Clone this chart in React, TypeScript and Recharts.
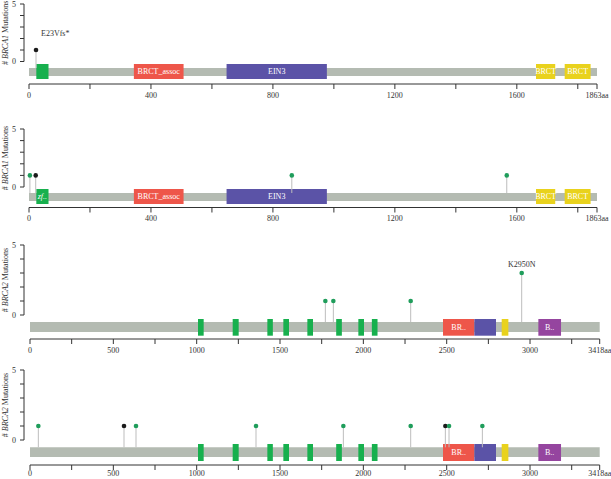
import { ComposedChart, XAxis, YAxis, Scatter, ReferenceArea, ReferenceLine } from 'recharts';

// protein lengths (aa)
const brca1Length = 1863;
const brca2Length = 3418;

// x-axis ticks
const brca1Ticks = [0, 200, 400, 600, 800, 1000, 1200, 1400, 1600, 1800, 1863];
const brca1TickLabels = [0, 400, 800, 1200, 1600];
const brca2Ticks = [0, 250, 500, 750, 1000, 1250, 1500, 1750, 2000, 2250, 2500, 2750, 3000, 3250, 3418];
const brca2TickLabels = [0, 500, 1000, 1500, 2000, 2500, 3000];
const yTicks = [0, 1, 2, 3, 4, 5];
const yTickLabels = [0, 5];

// protein domains
const brca1Domains = [
  { name: 'zf-C3HC4', start: 24, end: 64 },
  { name: 'BRCT_assoc', start: 344, end: 507 },
  { name: 'EIN3', start: 648, end: 977 },
  { name: 'BRCT', start: 1663, end: 1726 },
  { name: 'BRCT', start: 1757, end: 1842 },
];
const brca1LabelsTop = ['', 'BRCT_assoc', 'EIN3', 'BRCT', 'BRCT'];
const brca1LabelsBottom = ['zf..', 'BRCT_assoc', 'EIN3', 'BRCT', 'BRCT'];

const brca2Domains = [
  { name: 'BRCA2', start: 1008, end: 1042 },
  { name: 'BRCA2', start: 1216, end: 1252 },
  { name: 'BRCA2', start: 1424, end: 1457 },
  { name: 'BRCA2', start: 1520, end: 1554 },
  { name: 'BRCA2', start: 1664, end: 1698 },
  { name: 'BRCA2', start: 1837, end: 1871 },
  { name: 'BRCA2', start: 1970, end: 2004 },
  { name: 'BRCA2', start: 2051, end: 2085 },
  { name: 'BRCA-2_helical', start: 2478, end: 2666 },
  { name: 'BRCA-2_OB1', start: 2666, end: 2796 },
  { name: 'Tower', start: 2830, end: 2870 },
  { name: 'BRCA-2_OB3', start: 3050, end: 3186 },
];
const brca2Labels = ['', '', '', '', '', '', '', '', 'BR..', '', '', 'B..'];

// mutations: position, count, class, label
const brca1MutationsTop = [{ pos: 23, count: 1, kind: 'truncating', label: 'E23Vfs*' }];
const brca1MutationsBottom = [
  { pos: 3, count: 1, kind: 'missense', label: '' },
  { pos: 22, count: 1, kind: 'truncating', label: '' },
  { pos: 862, count: 1, kind: 'missense', label: '' },
  { pos: 1567, count: 1, kind: 'missense', label: '' },
];
const brca2MutationsTop = [
  { pos: 1772, count: 1, kind: 'missense', label: '' },
  { pos: 1820, count: 1, kind: 'missense', label: '' },
  { pos: 2284, count: 1, kind: 'missense', label: '' },
  { pos: 2950, count: 3, kind: 'missense', label: 'K2950N' },
];
const brca2MutationsBottom = [
  { pos: 50, count: 1, kind: 'missense', label: '' },
  { pos: 564, count: 1, kind: 'truncating', label: '' },
  { pos: 636, count: 1, kind: 'missense', label: '' },
  { pos: 1356, count: 1, kind: 'missense', label: '' },
  { pos: 1880, count: 1, kind: 'missense', label: '' },
  { pos: 2284, count: 1, kind: 'missense', label: '' },
  { pos: 2492, count: 1, kind: 'truncating', label: '' },
  { pos: 2514, count: 1, kind: 'missense', label: '' },
  { pos: 2714, count: 1, kind: 'missense', label: '' },
];

const domainColors: Record<string, string> = {
  'zf-C3HC4': '#17b04e',
  BRCT_assoc: '#ee564a',
  EIN3: '#5b53a7',
  BRCT: '#e9d21d',
  BRCA2: '#17b04e',
  'BRCA-2_helical': '#ee564a',
  'BRCA-2_OB1': '#5b53a7',
  Tower: '#e9d21d',
  'BRCA-2_OB3': '#95459f',
};
const dotColors: Record<string, string> = { missense: '#1f9d5b', truncating: '#1b1b1b' };

const W = 611;
const AXIS_X = 24;
const TEXT = '#333';

type Layout = {
  y5: number; y0: number; axisY: number; x0: number; xEnd: number;
  barTop: number; barBot: number; boxTop: number; boxBot: number;
  labelDx: number; labelDy: number; labelAnchor: 'start' | 'middle'; tickGap: number;
};

const AxisTitle = (props: any) => {
  const { viewBox, gene, half } = props;
  const cy = (viewBox?.y ?? 6) + half;
  return (
    <text x={5} y={cy} transform={`rotate(-90 5 ${cy})`} textAnchor="middle" dominantBaseline="central" fontSize={8} fill={TEXT}>
      # <tspan fontStyle="italic">{gene}</tspan> Mutations
    </text>
  );
};

function Panel({ gene, length, ticks, tickLabels, domains, labels, mutations, L }: any) {
  const l: Layout = L;
  const unit = (l.y0 - l.y5) / 5;
  const yMin = -(l.axisY - l.y0) / unit;
  const pxPerAa = (l.xEnd - l.x0) / length;
  const xMin = -(l.x0 - AXIS_X) / pxPerAa;
  const v = (px: number) => -px / unit;
  const top = l.y5 - 6;
  const height = l.axisY - l.y5 + 6 + 22;

  const Head = (p: any) => {
    const m = p.payload;
    return (
      <g>
        <circle cx={p.cx} cy={p.cy} r={2.3} fill={dotColors[m.kind]} />
        {m.label ? (
          <text x={p.cx + l.labelDx} y={p.cy + l.labelDy} textAnchor={l.labelAnchor} fontSize={8} fill={TEXT}>
            {m.label}
          </text>
        ) : null}
      </g>
    );
  };

  return (
    <div style={{ position: 'absolute', left: 0, top }}>
      <ComposedChart width={W} height={height} margin={{ top: 6, right: W - l.xEnd, bottom: 0, left: 0 }}>
        <XAxis
          type="number"
          dataKey="pos"
          domain={[xMin, length]}
          allowDataOverflow
          ticks={ticks}
          interval={0}
          axisLine={false}
          tickLine={{ stroke: TEXT }}
          tickSize={5}
          tickMargin={l.tickGap}
          height={22}
          tick={{ fontSize: 8, fill: TEXT, stroke: 'none' }}
          tickFormatter={(t: number) => (t === length ? `${length}aa` : tickLabels.includes(t) ? String(t) : '')}
        />
        <YAxis
          type="number"
          dataKey="count"
          domain={[yMin, 5]}
          allowDataOverflow
          ticks={yTicks}
          interval={0}
          width={AXIS_X}
          axisLine={false}
          tickLine={{ stroke: TEXT }}
          tickSize={4}
          tickMargin={4}
          tick={{ fontSize: 8, fill: TEXT, stroke: 'none' }}
          tickFormatter={(t: number) => (yTickLabels.includes(t) ? String(t) : '')}
          label={<AxisTitle gene={gene} half={(l.y0 - l.y5) / 2} />}
        />
        <ReferenceArea x1={0} x2={length} y1={v(l.barBot)} y2={v(l.barTop)} fill="#b4bbb2" fillOpacity={1} stroke="none" ifOverflow="visible" />
        {domains.map((d: any, i: number) => (
          <ReferenceArea
            key={`d-${i}`}
            x1={d.start}
            x2={d.end}
            y1={v(l.boxBot)}
            y2={v(l.boxTop)}
            fill={domainColors[d.name]}
            fillOpacity={1}
            stroke="none"
            ifOverflow="visible"
            label={labels[i] ? { value: labels[i], position: 'center', fill: '#fff', fontSize: 8, fontStyle: d.name === 'zf-C3HC4' ? 'italic' : 'normal' } : undefined}
          />
        ))}
        <ReferenceLine segment={[{ x: 0, y: yMin }, { x: length, y: yMin }]} stroke={TEXT} ifOverflow="visible" />
        <ReferenceLine segment={[{ x: xMin, y: 0 }, { x: xMin, y: 5 }]} stroke={TEXT} ifOverflow="visible" />
        {mutations.map((m: any, i: number) => (
          <ReferenceLine key={`s-${i}`} segment={[{ x: m.pos, y: v(l.barTop) }, { x: m.pos, y: m.count }]} stroke="#bdbdbd" ifOverflow="visible" />
        ))}
        <Scatter data={mutations} shape={Head} isAnimationActive={false} />
      </ComposedChart>
    </div>
  );
}

const L1: Layout = { y5: 4, y0: 61.5, axisY: 84, x0: 29, xEnd: 597, barTop: 6.5, barBot: 14.5, boxTop: 2.5, boxBot: 17.5, labelDx: 5, labelDy: -14, labelAnchor: 'start', tickGap: 3 };
const L2: Layout = { y5: 129, y0: 187, axisY: 207.5, x0: 29, xEnd: 597, barTop: 6, barBot: 14, boxTop: 2, boxBot: 17, labelDx: 5, labelDy: -14, labelAnchor: 'start', tickGap: 3 };
const L3: Layout = { y5: 245, y0: 315, axisY: 339, x0: 30, xEnd: 599.7, barTop: 7, barBot: 17, boxTop: 4, boxBot: 20.7, labelDx: 0, labelDy: -6, labelAnchor: 'middle', tickGap: 3 };
const L4: Layout = { y5: 370, y0: 440, axisY: 465, x0: 30, xEnd: 599.7, barTop: 7.3, barBot: 17, boxTop: 4, boxBot: 21, labelDx: 0, labelDy: -6, labelAnchor: 'middle', tickGap: 0 };

export default function App() {
  return (
    <div style={{ position: 'absolute', left: 0, top: 0, width: W, height: 479, background: '#fff', fontFamily: '"Liberation Serif", "Times New Roman", serif', overflow: 'hidden' }}>
      <Panel gene="BRCA1" length={brca1Length} ticks={brca1Ticks} tickLabels={brca1TickLabels} domains={brca1Domains} labels={brca1LabelsTop} mutations={brca1MutationsTop} L={L1} />
      <Panel gene="BRCA1" length={brca1Length} ticks={brca1Ticks} tickLabels={brca1TickLabels} domains={brca1Domains} labels={brca1LabelsBottom} mutations={brca1MutationsBottom} L={L2} />
      <Panel gene="BRCA2" length={brca2Length} ticks={brca2Ticks} tickLabels={brca2TickLabels} domains={brca2Domains} labels={brca2Labels} mutations={brca2MutationsTop} L={L3} />
      <Panel gene="BRCA2" length={brca2Length} ticks={brca2Ticks} tickLabels={brca2TickLabels} domains={brca2Domains} labels={brca2Labels} mutations={brca2MutationsBottom} L={L4} />
    </div>
  );
}
